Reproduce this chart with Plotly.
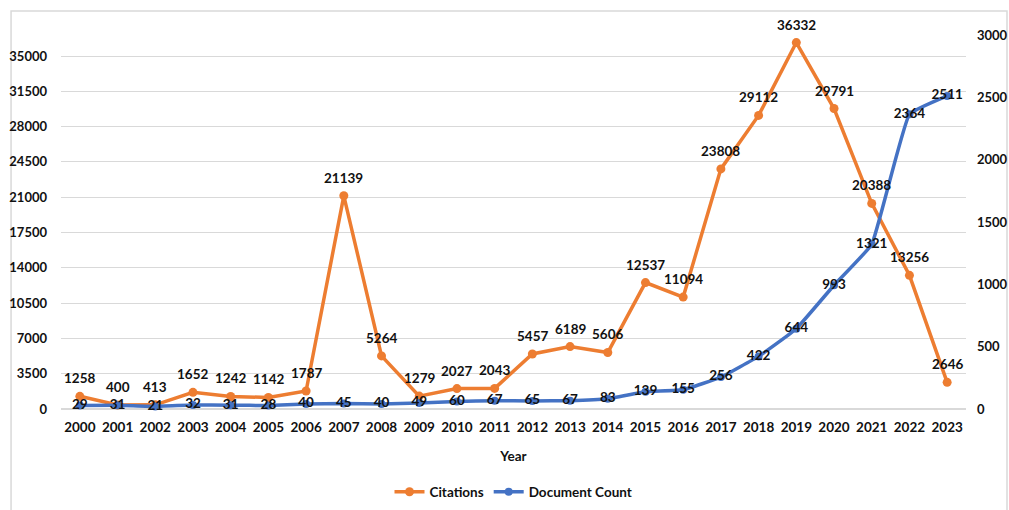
import plotly.graph_objects as go

years = [str(y) for y in range(2000, 2024)]
citations = [1258, 400, 413, 1652, 1242, 1142, 1787, 21139, 5264, 1279, 2027, 2043,
             5457, 6189, 5606, 12537, 11094, 23808, 29112, 36332, 29791, 20388, 13256, 2646]
doc_count = [29, 31, 21, 32, 31, 28, 40, 45, 40, 49, 60, 67,
             65, 67, 83, 139, 155, 256, 422, 644, 993, 1321, 2364, 2511]
left_ticks = [0, 3500, 7000, 10500, 14000, 17500, 21000, 24500, 28000, 31500, 35000]
right_ticks = [0, 500, 1000, 1500, 2000, 2500, 3000]

FONT = "Lato"
FS = 13.5
TFS = 13
ORANGE = "#ED7D31"
BLUE = "#4472C4"

fig = go.Figure()
fig.add_trace(go.Scatter(
    x=years, y=citations, name="Citations", mode="lines+markers",
    line=dict(color=ORANGE, width=3.5), marker=dict(color=ORANGE, size=9),
    cliponaxis=False, yaxis="y"))
fig.add_trace(go.Scatter(
    x=years, y=doc_count, name="Document Count", mode="lines+markers+text",
    line=dict(color=BLUE, width=3.5, shape="spline", smoothing=0.3),
    marker=dict(color=BLUE, size=8),
    text=[str(v) for v in doc_count], textposition="middle center",
    textfont=dict(family=FONT, size=FS, color="#111111", weight="bold"),
    cliponaxis=False, yaxis="y2"))

for i, v in enumerate(citations):
    fig.add_annotation(x=i, y=v, xref="x", yref="y", text=f"<b>{v}</b>",
                       showarrow=False, yshift=18, yanchor="middle",
                       font=dict(family=FONT, size=FS, color="#111111"))

fig.update_layout(
    width=1009, height=510,
    margin=dict(l=61, r=43, t=35, b=101, autoexpand=False),
    paper_bgcolor="white", plot_bgcolor="white",
    font=dict(family=FONT, size=FS, color="#111111"),
    showlegend=True,
    legend=dict(orientation="h", x=0.5, xanchor="center", y=-0.222, yanchor="middle",
                font=dict(family=FONT, size=FS, color="#111111", weight="bold")),
    xaxis=dict(type="category", range=[-0.5, 23.5], showgrid=False, showline=False, ticks="",
               ticklabelstandoff=8,
               tickfont=dict(family=FONT, size=FS, weight="bold"),
               title=dict(text="<b>Year</b>", font=dict(family=FONT, size=FS), standoff=18)),
    yaxis=dict(range=[0, 37083], tickvals=left_ticks, ticktext=[str(t) for t in left_ticks],
               showgrid=True, gridcolor="#d9d9d9", gridwidth=1, zeroline=True,
               zerolinecolor="#d9d9d9", showline=False, ticks="", ticklabelstandoff=13,
               tickfont=dict(family=FONT, size=TFS, weight="bold")),
    yaxis2=dict(range=[0, 3000], tickvals=right_ticks, ticktext=[str(t) for t in right_ticks],
                overlaying="y", side="right", showgrid=False, zeroline=False,
                showline=False, ticks="", ticklabelstandoff=10,
                tickfont=dict(family=FONT, size=TFS, weight="bold")),
)
fig.add_shape(type="rect", xref="paper", yref="paper",
              x0=-0.0552, x1=1.0453, y0=-0.3, y1=1.064,
              line=dict(color="#d9d9d9", width=1.5), fillcolor="rgba(0,0,0,0)", layer="below")

fig.write_html("out.html")
